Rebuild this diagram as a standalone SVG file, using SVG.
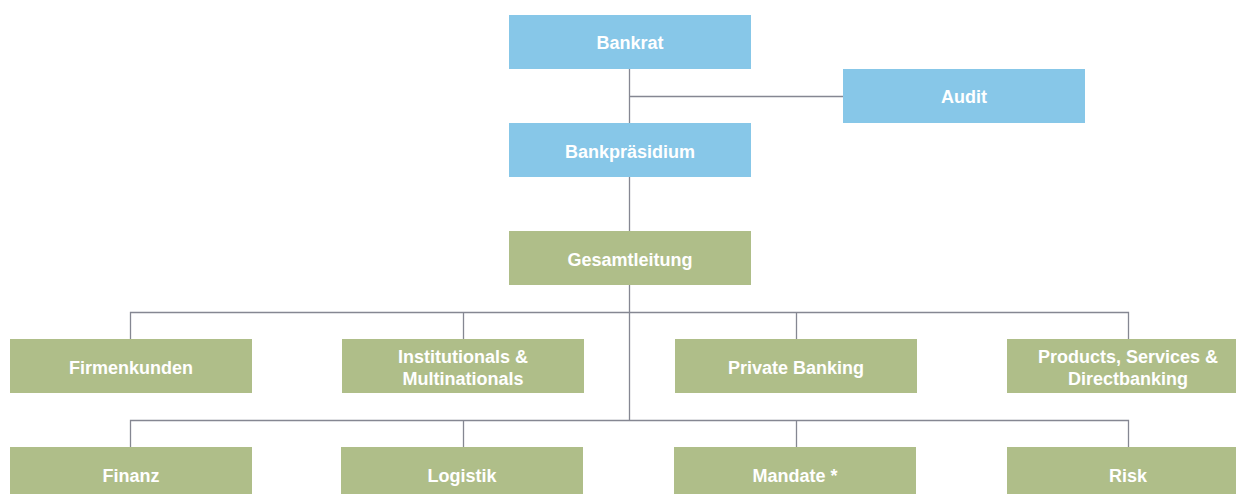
<svg xmlns="http://www.w3.org/2000/svg" width="1236" height="494" viewBox="0 0 1236 494">
<style>
.blue{fill:#87C7E8}
.green{fill:#AFBE89}
.t{font-family:"Liberation Sans",Arial,sans-serif;font-weight:bold;font-size:18px;fill:#ffffff;text-anchor:middle}
.c{stroke:#858792;stroke-width:1.3;fill:none}
</style>
<rect width="1236" height="494" fill="#ffffff"/>
<g id="connectors">
<path class="c" d="M629.5 69V123M629.5 96.5H843M629.5 177V231M629.5 285V420"/>
<path class="c" d="M130.5 339V312.5H1128.5V339M463.5 312.5V339M796.5 312.5V339"/>
<path class="c" d="M130.5 447V420.5H1128.5V447M463.5 420.5V447M796.5 420.5V447"/>
</g>
<g id="bankrat"><rect class="blue" x="509" y="15" width="242" height="54"/><text class="t" x="630" y="49">Bankrat</text></g>
<g id="audit"><rect class="blue" x="843" y="69" width="242" height="54"/><text class="t" x="964" y="103">Audit</text></g>
<g id="bankpraesidium"><rect class="blue" x="509" y="123" width="242" height="54"/><text class="t" x="630" y="158">Bankpräsidium</text></g>
<g id="gesamtleitung"><rect class="green" x="509" y="231" width="242" height="54"/><text class="t" x="630" y="266">Gesamtleitung</text></g>
<g id="firmenkunden"><rect class="green" x="10" y="339" width="242" height="54"/><text class="t" x="131" y="374">Firmenkunden</text></g>
<g id="institutionals"><rect class="green" x="342" y="339" width="242" height="54"/><text class="t" x="463" y="363">Institutionals &amp;</text><text class="t" x="463" y="385">Multinationals</text></g>
<g id="privatebanking"><rect class="green" x="675" y="339" width="242" height="54"/><text class="t" x="796" y="374">Private Banking</text></g>
<g id="products"><rect class="green" x="1007" y="339" width="242" height="54"/><text class="t" x="1128" y="363">Products, Services &amp;</text><text class="t" x="1128" y="385">Directbanking</text></g>
<g id="finanz"><rect class="green" x="10" y="447" width="242" height="54"/><text class="t" x="131" y="482">Finanz</text></g>
<g id="logistik"><rect class="green" x="341" y="447" width="242" height="54"/><text class="t" x="462" y="482">Logistik</text></g>
<g id="mandate"><rect class="green" x="674" y="447" width="242" height="54"/><text class="t" x="795" y="482">Mandate *</text></g>
<g id="risk"><rect class="green" x="1007" y="447" width="242" height="54"/><text class="t" x="1128" y="482">Risk</text></g>
</svg>
